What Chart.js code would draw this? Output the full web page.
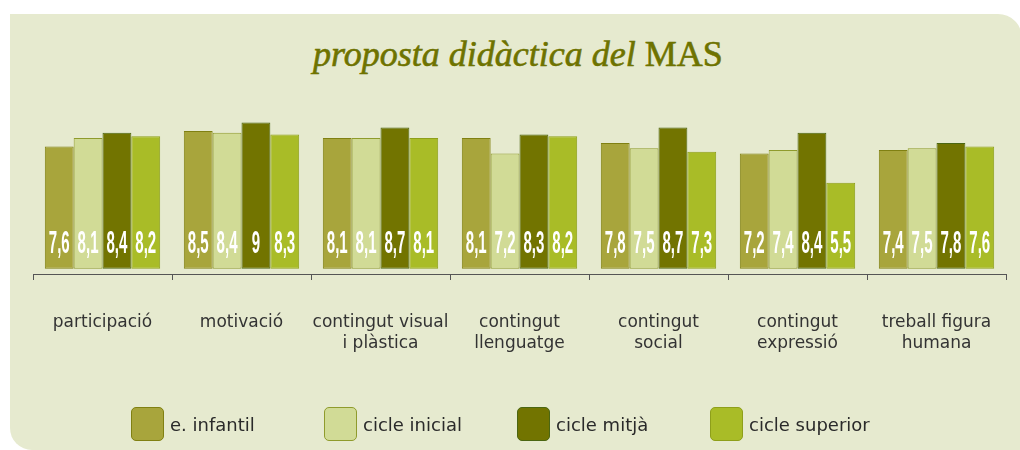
<!DOCTYPE html>
<html>
<head>
<meta charset="utf-8">
<script src="https://cdn.jsdelivr.net/npm/chart.js@4.4.1/dist/chart.umd.min.js"></script>
<style>
  body { margin: 0; background: #fff; }
  #wrap { position: relative; width: 1020px; height: 450px; overflow: hidden; }
  .panel { position: absolute; left: 10px; top: 14px; width: 1012px; height: 436px; background: #e6eacf; border-radius: 0 24px 0 22px; }
  .title { position: absolute; left: 313px; top: 36px; font: italic 36px 'Liberation Serif', serif; line-height: 36px; color: #6e7300; white-space: nowrap; -webkit-text-stroke: 0.6px #6e7300; }
  .title span { font-style: normal; }
  canvas { position: absolute; left: 0; top: 0; }
  .legend { position: absolute; left: 131px; top: 407px; display: flex; }
  .legend .item { width: 193px; display: flex; align-items: center; font: 18px 'DejaVu Sans', sans-serif; color: #2a2a2a; }
  .legend .box { width: 31px; height: 32px; border-radius: 5px; border: 1px solid; margin-right: 6px; box-sizing: content-box; }
</style>
</head>
<body>
<div id="wrap">
  <div class="panel"></div>
  <div class="title">proposta didàctica del <span>MAS</span></div>
  <canvas id="chart" width="1020" height="450"></canvas>
  <div class="legend" id="legend"></div>
</div>
<script>
const categories = [
  ['participació'],
  ['motivació'],
  ['contingut visual', 'i plàstica'],
  ['contingut', 'llenguatge'],
  ['contingut', 'social'],
  ['contingut', 'expressió'],
  ['treball figura', 'humana']
];
const seriesNames = ['e. infantil', 'cicle inicial', 'cicle mitjà', 'cicle superior'];
const infantil = [7.6, 8.5, 8.1, 8.1, 7.8, 7.2, 7.4];
const inicial = [8.1, 8.4, 8.1, 7.2, 7.5, 7.4, 7.5];
const mitja = [8.4, 9, 8.7, 8.3, 8.7, 8.4, 7.8];
const superior = [8.2, 8.3, 8.1, 8.2, 7.3, 5.5, 7.6];
const fills = ['#a8a53c', '#d1db96', '#727400', '#a9bc27'];
const borders = ['#808012', '#8f9b2c', '#4b6612', '#8e9f1a'];

// white value labels inside the bars, condensed
const valueLabels = {
  id: 'valueLabels',
  afterDatasetsDraw(chart) {
    const ctx = chart.ctx;
    ctx.save();
    ctx.fillStyle = '#ffffff';
    ctx.font = 'bold 32px "Liberation Sans", sans-serif';
    ctx.textAlign = 'center';
    ctx.textBaseline = 'alphabetic';
    chart.data.datasets.forEach((ds, i) => {
      chart.getDatasetMeta(i).data.forEach((bar, j) => {
        const txt = String(ds.data[j]).replace('.', ',');
        ctx.save();
        ctx.translate(bar.x, bar.base - 16);
        ctx.scale(0.47, 1);
        ctx.fillText(txt, 0, 0);
        ctx.restore();
      });
    });
    ctx.restore();
  }
};

const allSeries = [infantil, inicial, mitja, superior];

new Chart(document.getElementById('chart'), {
  type: 'bar',
  data: {
    labels: categories,
    datasets: allSeries.map((data, i) => ({
      label: seriesNames[i],
      data,
      backgroundColor: fills[i],
      borderColor: borders[i],
      borderWidth: 1,
      borderSkipped: false,
      base: 0.5,
      categoryPercentage: 0.83,
      barPercentage: 1.0
    }))
  },
  options: {
    responsive: false,
    animation: false,
    layout: { padding: { left: 33, right: 14, top: 119, bottom: 0 } },
    plugins: {
      legend: { display: false },
      title: { display: false },
      tooltip: { enabled: false }
    },
    scales: {
      y: { display: false, min: 0.2, max: 9.2 },
      x: {
        afterFit(scale) {
          scale.height = 176;
          scale.paddingLeft = 0;
          scale.paddingRight = 0;
        },
        grid: { drawOnChartArea: false, drawTicks: true, tickLength: 6, color: '#555', offset: true },
        border: { display: true, color: '#555', width: 1 },
        ticks: {
          color: '#333',
          font: { family: 'DejaVu Sans', size: 17, lineHeight: 1.25 },
          padding: 32,
          maxRotation: 0,
          autoSkip: false
        }
      }
    }
  },
  plugins: [valueLabels]
});

// legend with fixed slots
const legend = document.getElementById('legend');
seriesNames.forEach((name, i) => {
  const item = document.createElement('div');
  item.className = 'item';
  const box = document.createElement('div');
  box.className = 'box';
  box.style.background = fills[i];
  box.style.borderColor = borders[i];
  const label = document.createElement('span');
  label.textContent = name;
  item.appendChild(box);
  item.appendChild(label);
  legend.appendChild(item);
});
</script>
</body>
</html>
